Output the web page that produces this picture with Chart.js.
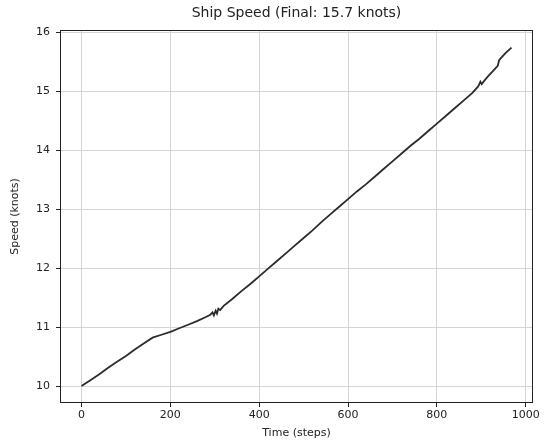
<!DOCTYPE html>
<html>
<head>
<meta charset="utf-8">
<script src="https://cdn.jsdelivr.net/npm/chart.js@4/dist/chart.umd.min.js"></script>
<style>
  body { margin: 0; background: #fff; }
  canvas { display: block; }
</style>
</head>
<body>
<canvas id="speedChart" width="545" height="441"></canvas>
<script>
const steps = [0, 20, 40, 60, 80, 100, 120, 140, 160, 180, 200, 220, 240, 260, 280,
    290, 295, 298, 302, 305, 308, 312, 320, 340, 360, 380, 400, 420, 440, 460, 480,
    500, 520, 540, 560, 580, 600, 620, 640, 660, 680, 700, 720, 740, 760, 780, 800,
    820, 840, 860, 880, 893, 898, 901, 906, 915, 925, 937, 940, 944, 955, 968];
const speed = [10.00, 10.10, 10.20, 10.31, 10.41, 10.51, 10.62, 10.72, 10.82, 10.87,
    10.92, 10.98, 11.04, 11.10, 11.17, 11.21, 11.25, 11.20, 11.28, 11.23, 11.31, 11.29,
    11.36, 11.48, 11.61, 11.73, 11.86, 11.99, 12.12, 12.25, 12.38, 12.51, 12.64, 12.78,
    12.91, 13.04, 13.17, 13.30, 13.42, 13.55, 13.68, 13.81, 13.94, 14.07, 14.19, 14.32,
    14.45, 14.58, 14.71, 14.84, 14.97, 15.08, 15.16, 15.12, 15.17, 15.25, 15.33, 15.43,
    15.52, 15.56, 15.65, 15.74];
const xTicks = [0, 200, 400, 600, 800, 1000];
const yTicks = [10, 11, 12, 13, 14, 15, 16];

const finalSpeed = speed[speed.length - 1];
const titleText = "Ship Speed (Final: " + finalSpeed.toFixed(1) + " knots)";

const FONT = "'DejaVu Sans', sans-serif";

// white background, axes box and centred title
const framePlugin = {
    id: "frame",
    beforeDraw(chart) {
        const ctx = chart.ctx;
        ctx.save();
        ctx.fillStyle = "#fff";
        ctx.fillRect(0, 0, chart.width, chart.height);
        ctx.restore();
    },
    afterDraw(chart) {
        const ctx = chart.ctx;
        const a = chart.chartArea;
        ctx.save();
        ctx.strokeStyle = "#222";
        ctx.lineWidth = 1;
        ctx.strokeRect(a.left + 0.5, a.top + 0.5, a.right - a.left - 1, a.bottom - a.top - 1);
        ctx.fillStyle = "#222";
        ctx.font = "14px " + FONT;
        ctx.textAlign = "center";
        ctx.textBaseline = "middle";
        ctx.fillText(titleText, (a.left + a.right) / 2, 13);
        ctx.restore();
    }
};

new Chart(document.getElementById("speedChart").getContext("2d"), {
    type: "line",
    data: {
        datasets: [
            {
                data: steps.map((s, i) => ({ x: s, y: speed[i] })),
                borderColor: "#2b2b2b",
                borderWidth: 1.8,
                pointRadius: 0,
                tension: 0,
                fill: false
            }
        ]
    },
    options: {
        responsive: false,
        animation: false,
        layout: { padding: { top: 30, right: 12, bottom: 0, left: 0 } },
        plugins: {
            legend: { display: false },
            tooltip: { enabled: false }
        },
        scales: {
            x: {
                type: "linear",
                min: -48.4,
                max: 1016.4,
                afterBuildTicks: s => { s.ticks = xTicks.map(v => ({ value: v })); },
                afterFit: s => { s.height = 38; },
                grid: { color: "#d4d4d4", tickColor: "#222", tickLength: 4 },
                border: { display: false },
                ticks: { color: "#222", font: { family: FONT, size: 11 }, padding: 2,
                    maxRotation: 0, callback: v => String(v) },
                title: { display: true, text: "Time (steps)", color: "#222",
                    font: { family: FONT, size: 11 }, padding: { top: 0, bottom: 1 } }
            },
            y: {
                min: 9.7125,
                max: 16.0375,
                afterBuildTicks: s => { s.ticks = yTicks.map(v => ({ value: v })); },
                afterFit: s => { s.width = 60; },
                grid: { color: "#d4d4d4", tickColor: "#222", tickLength: 4 },
                border: { display: false },
                ticks: { color: "#222", font: { family: FONT, size: 11 }, padding: 6 },
                title: { display: true, text: "Speed (knots)", color: "#222",
                    font: { family: FONT, size: 11 }, padding: { top: 9, bottom: 0 } }
            }
        }
    },
    plugins: [framePlugin]
});
</script>
</body>
</html>
